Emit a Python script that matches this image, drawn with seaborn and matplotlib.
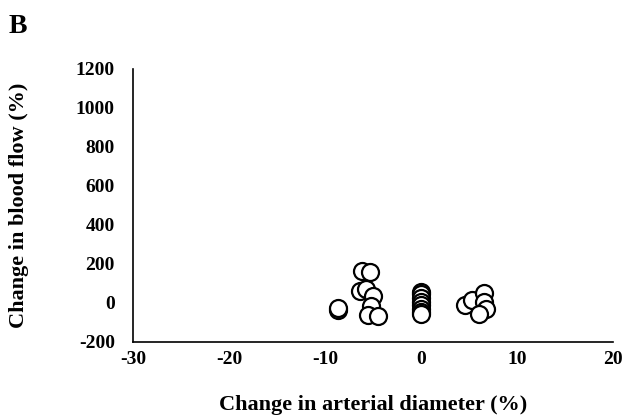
import matplotlib
matplotlib.use("Agg")
import matplotlib.pyplot as plt
import seaborn as sns
import pandas as pd

diameter_change = [-8.7, -8.7,
                   -6.2, -5.3, -6.4, -5.7, -5.0, -5.2, -5.5, -4.5,
                   0, 0, 0, 0, 0, 0, 0, 0,
                   4.6, 5.3, 6.6, 6.6, 6.8, 6.0]
flow_change = [-40, -28,
               160, 155, 60, 70, 35, -20, -65, -70,
               55, 45, 25, 5, -15, -35, -50, -60,
               -15, 15, 50, 5, -35, -60]

df = pd.DataFrame({"x": diameter_change, "y": flow_change})

sns.set_theme(style="white")
plt.rcParams["font.family"] = ["Liberation Serif", "DejaVu Serif"]
plt.rcParams["font.weight"] = "bold"
plt.rcParams["axes.unicode_minus"] = False

fig = plt.figure(figsize=(6.27, 4.18), dpi=100)
ax = fig.add_axes([0.212, 0.183, 0.766, 0.652])
sns.scatterplot(data=df, x="x", y="y", ax=ax, s=150, facecolor="white",
                edgecolor="black", linewidth=1.6, zorder=3, clip_on=False)

ax.set_xlim(-30, 20)
ax.set_ylim(-200, 1200)
ax.set_xticks([-30, -20, -10, 0, 10, 20])
ax.set_yticks([-200, 0, 200, 400, 600, 800, 1000, 1200])
for sp in ["top", "right"]:
    ax.spines[sp].set_visible(False)
for sp in ["left", "bottom"]:
    ax.spines[sp].set_color("black")
    ax.spines[sp].set_linewidth(1.2)
ax.tick_params(axis="x", direction="out", length=4, width=1.2, color="black",
               labelsize=14, pad=3)
ax.tick_params(axis="y", length=0, labelsize=14, pad=13)
for lab in ax.get_xticklabels() + ax.get_yticklabels():
    lab.set_fontweight("bold")
    lab.set_color("black")
ax.set_xlabel("Change in arterial diameter (%)", fontsize=16, fontweight="bold",
              color="black")
ax.set_ylabel("Change in blood flow (%)", fontsize=16, fontweight="bold",
              color="black")
ax.xaxis.set_label_coords(0.5, -0.195)
ax.yaxis.set_label_coords(-0.217, 0.5)
fig.text(0.013, 0.92, "B", fontsize=20, fontweight="bold", color="black")

fig.savefig("out.png", dpi=100)
